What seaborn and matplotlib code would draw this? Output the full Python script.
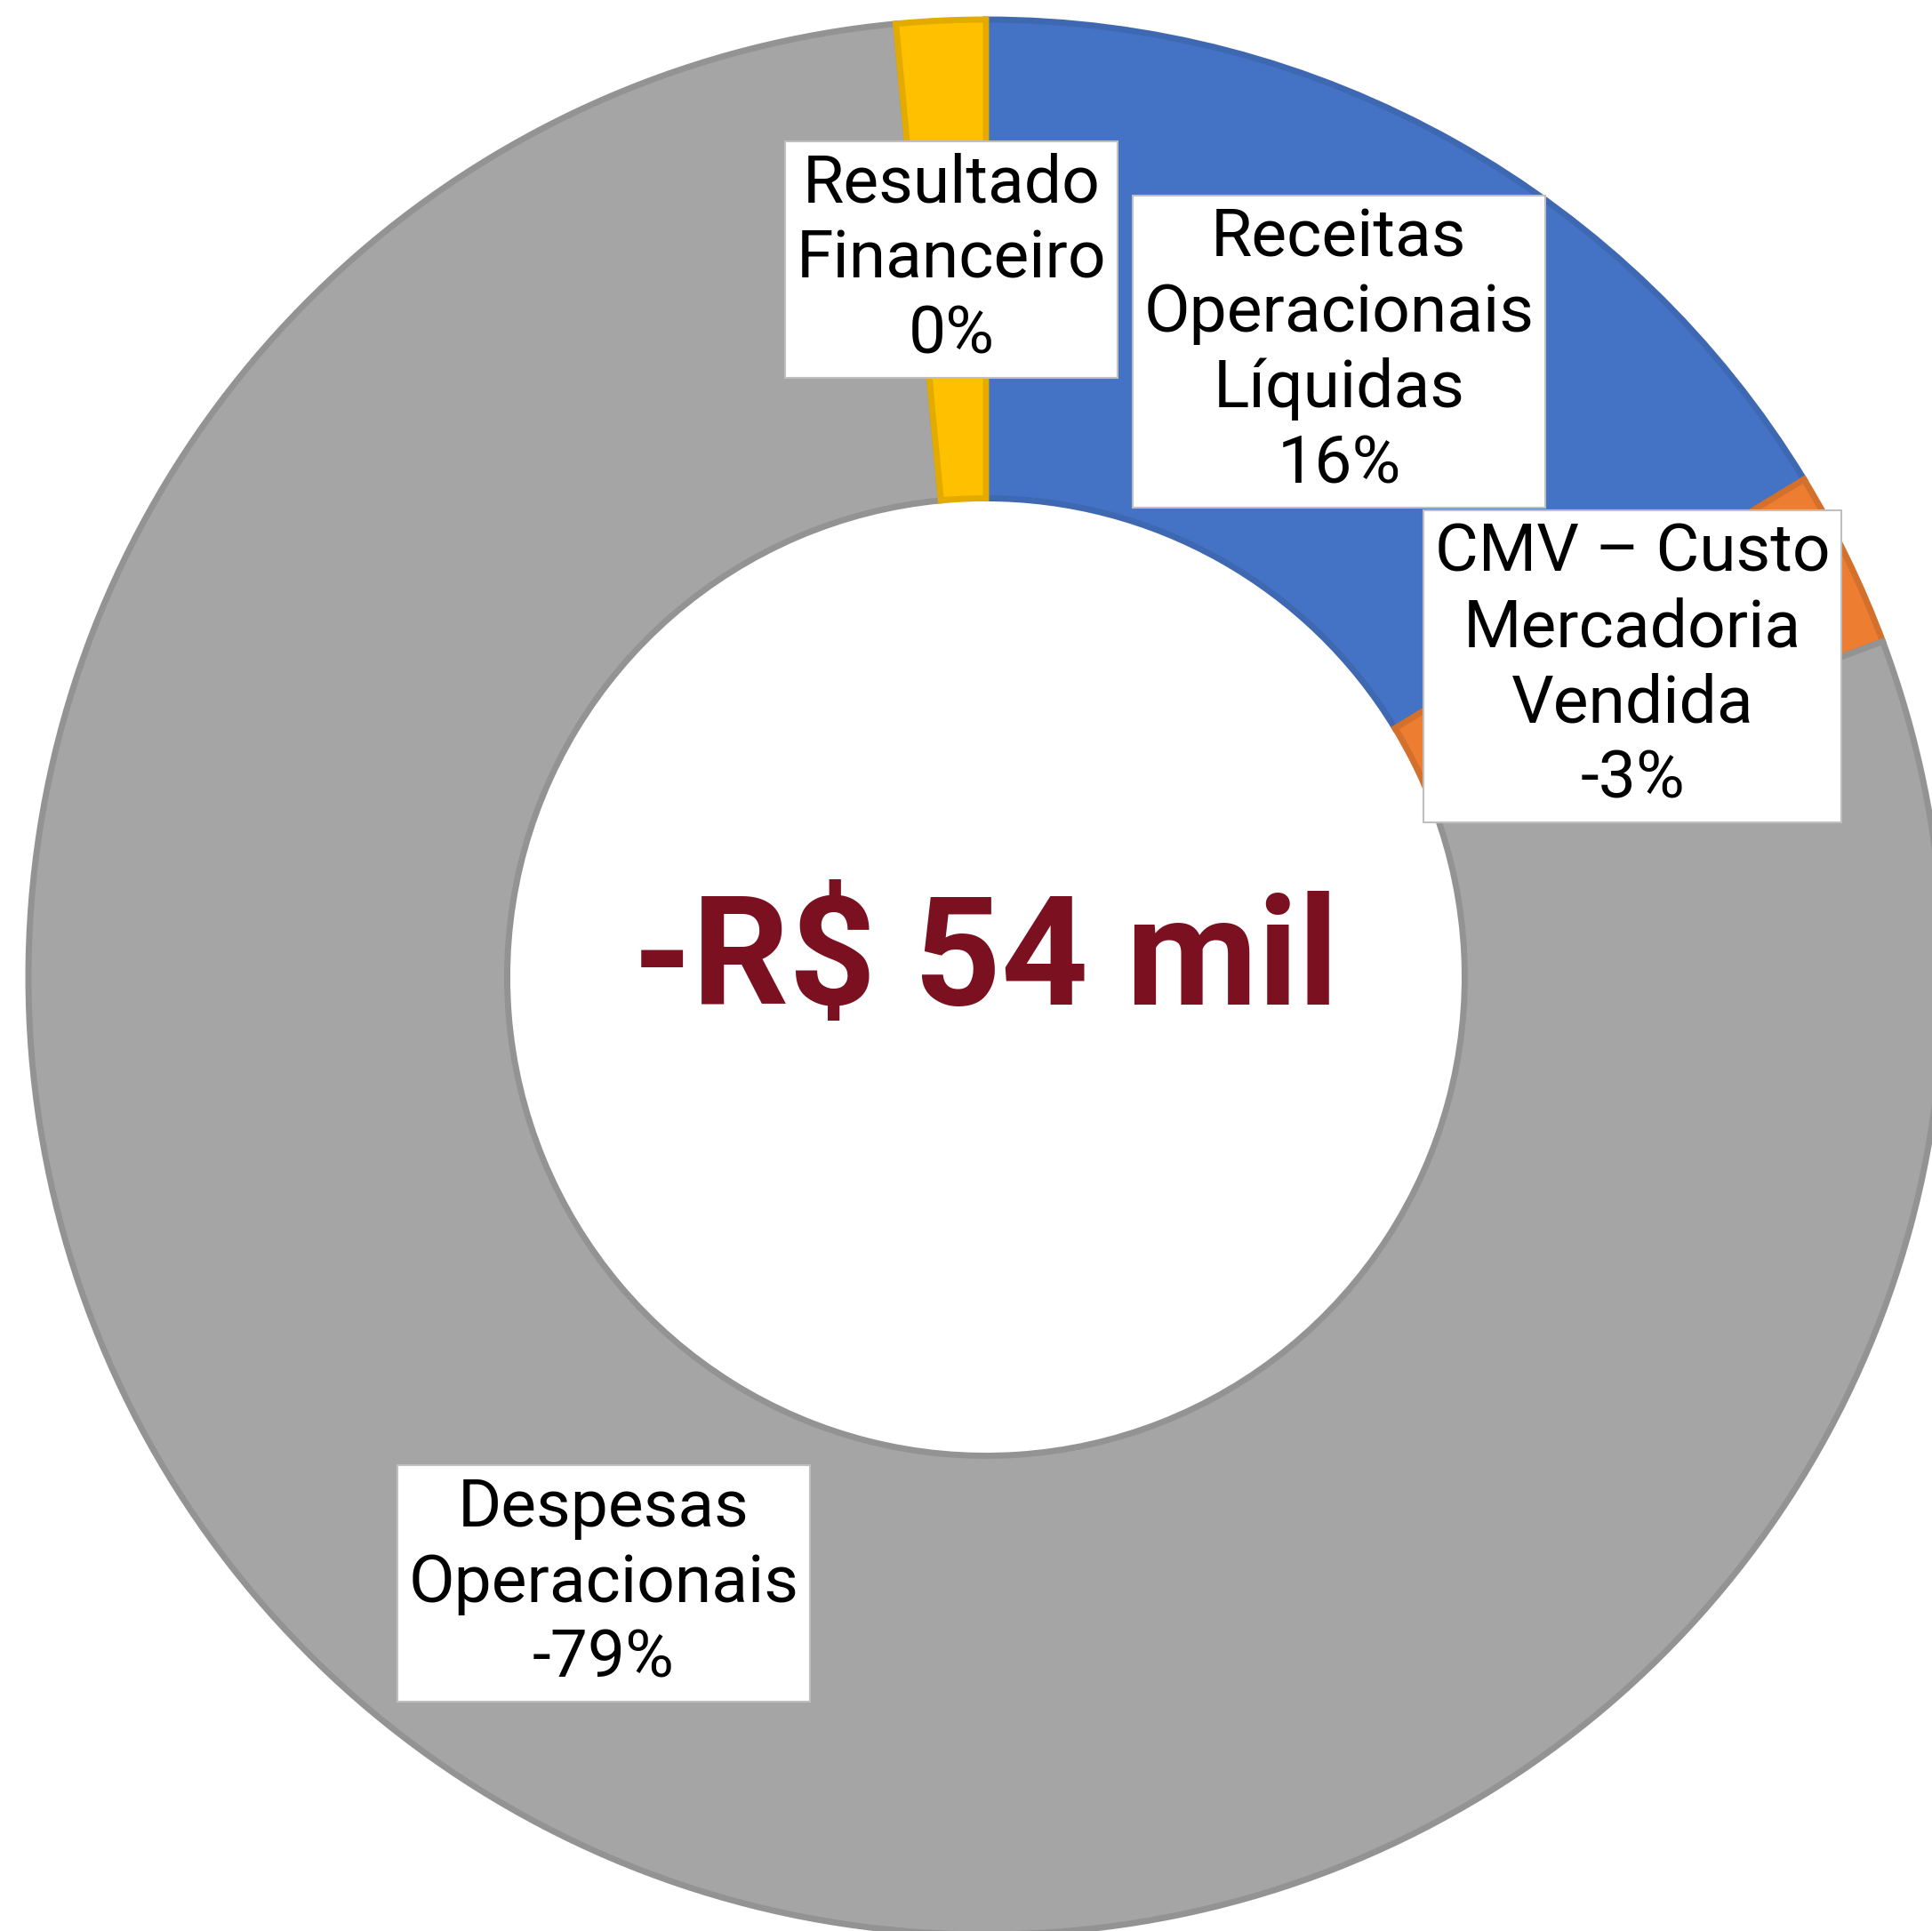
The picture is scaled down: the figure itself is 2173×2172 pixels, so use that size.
import matplotlib
matplotlib.use("Agg")
import matplotlib.pyplot as plt
import seaborn as sns
from matplotlib import font_manager

# dados (fatias em % do total)
categorias = ["Receitas\nOperacionais\nLíquidas", "CMV – Custo\nMercadoria\nVendida",
              "Despesas\nOperacionais", "Resultado\nFinanceiro"]
fatias = [16.3, 3.0, 79.2, 1.5]
rotulos_pct = ["16%", "-3%", "-79%", "0%"]
cores = ["#4472C4", "#ED7D31", "#A5A5A5", "#FFC000"]
bordas = ["#3F68B3", "#D2702C", "#939393", "#E3AB00"]
total_texto = "-R$ 54 mil"

# posições das caixas de rótulo (fração da figura)
pos_rotulos = [(0.693, 0.818), (0.845, 0.655), (0.3125, 0.180), (0.4924, 0.8656)]

sns.set_style("white")
nomes = {f.name for f in font_manager.fontManager.ttflist}
fonte = "Roboto" if "Roboto" in nomes else "DejaVu Sans"
plt.rcParams["font.family"] = [fonte, "DejaVu Sans"]

fig = plt.figure(figsize=(21.73, 21.72), dpi=100)
ax = fig.add_axes([0, 0, 1, 1])

wedges, _ = ax.pie(fatias, colors=sns.color_palette(cores), startangle=90, counterclock=False,
                   radius=1.0, wedgeprops=dict(width=0.5, linewidth=5))
for w, b in zip(wedges, bordas):
    w.set_edgecolor(b)

ax.set_xlim(-1.0297, 0.988)
ax.set_ylim(-0.9963, 1.0204)
ax.set_aspect("equal")
ax.axis("off")

ax.text(0, -0.029, total_texto, ha="center", va="baseline", fontsize=123, fontweight="bold",
        color="#7B1020")

for cat, pct, (x, y) in zip(categorias, rotulos_pct, pos_rotulos):
    fig.text(x, y, cat + "\n" + pct, ha="center", va="center", fontsize=54,
             linespacing=1.25, color="black",
             bbox=dict(boxstyle="square,pad=0.17", facecolor="white", edgecolor="#BFBFBF", linewidth=1.5))

fig.savefig("out.png", dpi=100, facecolor="white")
